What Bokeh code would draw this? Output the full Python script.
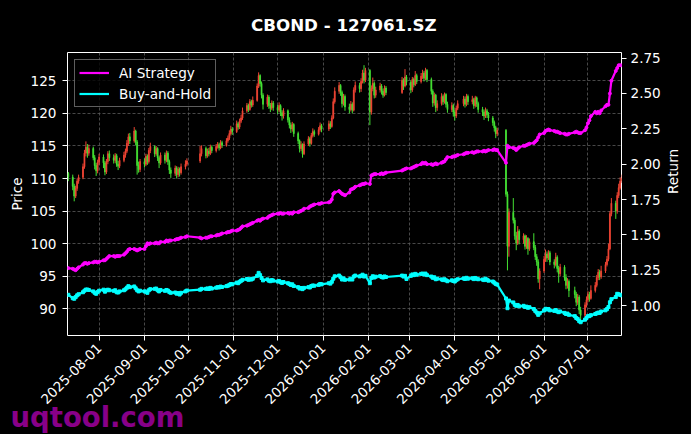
import math
import pandas as pd
from bokeh.plotting import figure
from bokeh.models import (ColumnDataSource, Range1d, LinearAxis, FixedTicker,
                          DatetimeTickFormatter, NumeralTickFormatter, Label,
                          Legend, LegendItem)
from bokeh.embed import file_html
from bokeh.resources import INLINE

TITLE = "CBOND - 127061.SZ"
WATERMARK = "uqtool.com"
first_day = "2025-07-11"
last_day = "2026-07-24"
market_holidays = ["2025-10-01", "2025-10-02", "2025-10-03", "2025-10-06", "2025-10-07",
                   "2025-10-08", "2026-01-01", "2026-01-02", "2026-02-16", "2026-02-17",
                   "2026-02-18", "2026-02-19", "2026-02-20", "2026-02-23", "2026-04-06",
                   "2026-05-01", "2026-05-04", "2026-05-05", "2026-06-19"]
month_ticks = ["2025-08-01", "2025-09-01", "2025-10-01", "2025-11-01", "2025-12-01",
               "2026-01-01", "2026-02-01", "2026-03-01", "2026-04-01", "2026-05-01",
               "2026-06-01", "2026-07-01"]
price_ticks = [90, 95, 100, 105, 110, 115, 120, 125]
return_ticks = [1.00, 1.25, 1.50, 1.75, 2.00, 2.25, 2.50, 2.75]

first_open = 110.8
close = [110.2,
    108.8, 107.3, 108.5, 109.6, 110.2, 111.8, 113.9, 114.8, 113.9, 114.6, 113.2, 112.0, 111.2, 112.5, 113.3,
    112.4, 111.0, 112.6, 113.8, 113.2, 112.8, 113.5, 112.2, 111.9, 112.8, 113.6, 114.2, 115.4, 116.4, 115.8, 117.3, 115.6, 112.0, 111.4, 112.6,
    112.2, 113.4, 112.6, 114.3, 114.9, 113.8, 114.6, 113.2, 112.4, 113.6, 112.8, 113.9, 112.6, 111.3, 110.8, 111.6, 110.6, 111.4, 110.9, 111.8, 112.2, 112.7,
    113.8, 114.6, 113.5, 114.2, 113.8, 114.8, 114.3, 114.9, 115.2, 114.7, 115.5, 115.1, 115.8, 116.2, 116.9, 117.6, 117.2,
    118.4, 117.9, 118.8, 119.3, 120.4, 121.2, 120.6, 121.8, 121.3, 122.0, 124.2, 125.8, 124.6, 122.8, 121.4, 122.5, 121.2, 120.8, 121.6, 120.9,
    120.5, 121.2, 120.1, 119.6, 120.4, 119.0, 118.2, 117.6, 118.3, 116.9, 115.8, 114.6, 115.2, 113.8, 115.3, 116.1, 115.4, 116.6, 117.2, 116.8, 117.5, 118.1, 117.6,
    118.4, 118.0, 119.3, 121.8, 123.4, 124.3, 123.2, 121.5, 122.6, 121.0, 120.6, 121.4, 120.5, 123.6, 124.3, 123.8, 124.9, 126.2, 125.1, 126.6,
    120.2, 123.8, 124.6, 122.8, 123.6, 124.2, 123.4, 122.8, 123.9, 123.2, 125.1, 124.2, 125.6, 124.8,
    123.6, 125.2, 124.4, 125.8, 124.9, 125.7, 126.2, 125.4, 126.6, 125.2, 123.4, 121.6, 122.8, 120.9, 121.5, 122.6, 121.8, 122.9, 121.4, 120.6, 121.2, 120.2,
    119.6, 120.8, 121.5, 122.2, 121.4, 122.6, 121.8, 122.1, 121.2, 122.4, 121.5, 120.6, 120.2, 119.6, 120.4, 119.8, 119.3, 118.6, 117.8, 116.9, 117.4,
    107.6, 99.6, 104.8, 103.6, 101.2, 100.1, 101.9, 100.6, 101.2, 99.6, 100.8, 99.2, 100.3, 99.4, 98.0, 97.2, 94.6, 95.8,
    97.6, 98.4, 97.8, 98.6, 97.2, 96.8, 97.9, 96.2, 95.4, 96.4, 94.8, 93.6, 94.2, 92.8, 92.2, 91.0, 91.8, 89.8, 89.0, 90.6, 91.4,
    92.2, 91.6, 92.8, 93.6, 94.8, 95.6, 94.9, 95.8, 96.8, 97.6, 99.2, 104.6, 106.2, 105.0, 107.4, 108.6, 109.6,
    110.0]
high = [111.0,
    110.6, 109.2, 108.9, 110.0, 110.6, 112.3, 114.4, 115.7, 115.3, 115.2, 114.9, 113.6, 112.4, 112.9, 113.8,
    113.7, 112.7, 113.0, 114.2, 114.3, 113.7, 113.9, 113.8, 112.7, 113.2, 114.1, 114.6, 115.9, 116.9, 117.0, 117.9, 117.5, 115.9, 112.6, 113.0,
    113.1, 113.8, 113.7, 114.7, 115.5, 115.1, 115.0, 114.8, 113.5, 114.0, 114.0, 114.3, 114.2, 112.9, 111.7, 112.0, 111.9, 111.8, 111.7, 112.3, 112.8, 113.1,
    115.0, 115.1, 114.9, 114.6, 114.7, 115.2, 115.1, 115.3, 115.6, 115.5, 115.9, 115.8, 116.2, 116.6, 117.4, 118.1, 117.9,
    118.9, 118.7, 119.2, 119.8, 120.9, 121.6, 121.5, 122.2, 122.1, 122.6, 124.6, 126.3, 126.0, 124.9, 123.1, 122.9, 122.8, 121.6, 122.0, 121.9,
    121.3, 121.7, 121.4, 120.5, 120.8, 120.6, 119.4, 118.6, 118.7, 118.5, 117.2, 116.0, 115.7, 115.4, 115.7, 116.5, 116.4, 117.0, 117.7, 117.5, 117.9, 118.6, 118.4,
    118.9, 118.8, 119.7, 122.3, 124.0, 124.8, 124.5, 123.5, 123.0, 122.9, 121.5, 121.9, 121.7, 124.0, 124.9, 124.7, 125.4, 126.7, 127.4, 127.0,
    126.8, 124.3, 125.5, 124.9, 124.1, 124.7, 124.5, 123.8, 124.3, 124.2, 125.6, 125.4, 126.8, 125.9,
    125.1, 125.6, 125.5, 126.5, 126.1, 126.2, 126.7, 126.5, 127.0, 126.8, 125.5, 123.7, 123.2, 123.0, 122.0, 123.1, 122.9, 123.2, 123.1, 121.8, 121.7, 121.5,
    120.5, 121.2, 122.0, 122.7, 122.6, 123.0, 122.9, 122.7, 122.4, 122.7, 122.6, 121.8, 121.0, 120.6, 120.9, 120.7, 120.2, 119.6, 118.9, 118.1, 117.8,
    117.6, 108.0, 105.4, 107.0, 104.0, 101.8, 102.7, 102.2, 101.6, 101.4, 101.3, 101.0, 100.8, 101.6, 99.8, 98.4, 97.6, 96.2,
    98.1, 99.1, 98.8, 99.0, 98.9, 97.6, 98.6, 98.2, 96.6, 96.9, 96.7, 95.3, 94.7, 94.5, 93.4, 92.6, 92.3, 92.1, 90.3, 91.0, 91.9,
    92.7, 92.6, 93.6, 94.1, 95.2, 96.1, 96.0, 96.6, 97.2, 98.1, 100.0, 105.0, 107.0, 106.6, 107.9, 109.2, 110.2,
    110.6]
low = [109.6,
    108.2, 106.5, 107.0, 108.1, 109.2, 109.9, 111.5, 113.4, 113.2, 113.5, 112.8, 111.4, 110.4, 110.8, 112.1,
    111.6, 110.5, 110.7, 112.2, 112.7, 112.3, 112.4, 111.8, 111.3, 111.6, 112.5, 113.2, 113.9, 115.0, 115.3, 115.5, 115.1, 110.6, 110.9, 111.0,
    111.7, 111.9, 112.1, 112.3, 113.9, 113.3, 113.5, 112.7, 111.6, 112.1, 112.3, 112.5, 112.1, 110.7, 110.1, 110.4, 110.0, 110.2, 110.3, 110.6, 111.4, 111.9,
    112.4, 113.4, 113.1, 113.2, 113.4, 113.6, 113.9, 114.0, 114.6, 114.3, 114.5, 114.7, 114.9, 115.5, 115.9, 116.6, 116.7,
    117.0, 117.5, 117.6, 118.5, 119.0, 120.1, 120.2, 120.4, 120.9, 121.0, 121.8, 123.9, 124.1, 122.3, 120.6, 121.0, 120.7, 120.2, 120.5, 120.4,
    119.9, 120.2, 119.6, 118.9, 119.2, 118.6, 117.7, 117.0, 117.2, 116.4, 115.3, 114.0, 114.2, 113.2, 113.6, 115.0, 114.9, 115.2, 116.3, 116.4, 116.6, 117.2, 117.1,
    117.3, 117.6, 117.8, 119.1, 121.5, 123.0, 122.7, 120.9, 121.2, 120.4, 120.0, 120.3, 120.0, 120.3, 123.2, 123.2, 123.3, 124.6, 124.6, 124.8,
    118.2, 119.8, 123.4, 122.3, 122.4, 123.2, 122.9, 122.4, 122.6, 122.8, 123.0, 123.6, 124.0, 124.3,
    123.1, 123.3, 124.0, 124.2, 124.5, 124.6, 125.3, 124.9, 125.1, 124.8, 122.9, 121.0, 121.2, 120.2, 120.4, 121.2, 121.3, 121.5, 120.9, 120.1, 120.2, 119.5,
    118.9, 119.3, 120.5, 121.1, 120.9, 121.1, 121.3, 121.4, 120.7, 120.9, 121.0, 120.1, 119.6, 119.0, 119.3, 119.3, 118.8, 118.1, 117.2, 116.2, 116.5,
    107.2, 95.9, 98.0, 103.1, 100.6, 99.0, 99.8, 99.9, 100.0, 99.1, 99.2, 98.3, 98.9, 99.0, 97.5, 96.6, 94.0, 93.0,
    95.5, 97.2, 97.2, 97.5, 96.7, 96.2, 96.5, 95.6, 94.0, 95.0, 94.3, 93.0, 93.1, 91.8, 91.6, 90.4, 90.6, 89.2, 88.1, 88.6, 90.2,
    91.0, 91.1, 91.4, 92.5, 93.3, 94.4, 94.4, 94.6, 95.5, 96.5, 97.3, 99.0, 104.2, 103.8, 104.6, 107.0, 108.3,
    109.3]
ai_strategy = [1.265,
    1.26, 1.255, 1.25, 1.26, 1.27, 1.29, 1.30, 1.30, 1.295, 1.30, 1.305, 1.31, 1.31, 1.305, 1.31,
    1.32, 1.32, 1.33, 1.34, 1.35, 1.35, 1.345, 1.35, 1.35, 1.35, 1.36, 1.37, 1.38, 1.395, 1.40, 1.40, 1.395, 1.39, 1.395, 1.40,
    1.40, 1.42, 1.44, 1.435, 1.44, 1.44, 1.445, 1.44, 1.44, 1.45, 1.45, 1.46, 1.455, 1.46, 1.46, 1.465, 1.47, 1.47, 1.475, 1.48, 1.485, 1.49,
    1.48, 1.475, 1.48, 1.48, 1.485, 1.49, 1.49, 1.495, 1.50, 1.50, 1.505, 1.51, 1.515, 1.52, 1.52, 1.525, 1.53,
    1.53, 1.535, 1.54, 1.55, 1.56, 1.565, 1.57, 1.575, 1.58, 1.585, 1.60, 1.605, 1.60, 1.61, 1.615, 1.62, 1.63, 1.635, 1.64, 1.645,
    1.65, 1.65, 1.655, 1.65, 1.65, 1.655, 1.65, 1.655, 1.65, 1.66, 1.66, 1.665, 1.67, 1.675, 1.685, 1.69, 1.70, 1.705, 1.71, 1.715, 1.72, 1.72, 1.725,
    1.73, 1.735, 1.75, 1.79, 1.80, 1.81, 1.80, 1.79, 1.785, 1.78, 1.80, 1.82, 1.825, 1.83, 1.84, 1.85, 1.855, 1.86, 1.86, 1.865,
    1.86, 1.92, 1.925, 1.93, 1.93, 1.93, 1.935, 1.93, 1.935, 1.94, 1.955, 1.96, 1.965, 1.97,
    1.97, 1.975, 1.98, 1.985, 1.99, 2.00, 2.01, 2.005, 2.01, 2.00, 2.00, 1.995, 2.00, 2.005, 2.00, 2.01, 2.015, 2.02, 2.035, 2.05, 2.05, 2.055,
    2.055, 2.06, 2.065, 2.07, 2.075, 2.08, 2.08, 2.085, 2.08, 2.085, 2.09, 2.09, 2.09, 2.095, 2.09, 2.095, 2.10, 2.10, 2.105, 2.10, 2.10,
    2.01, 2.13, 2.12, 2.115, 2.11, 2.10, 2.11, 2.12, 2.13, 2.13, 2.135, 2.14, 2.145, 2.15, 2.16, 2.17, 2.19, 2.21,
    2.22, 2.235, 2.24, 2.245, 2.24, 2.235, 2.23, 2.23, 2.225, 2.22, 2.215, 2.21, 2.21, 2.215, 2.225, 2.23, 2.225, 2.22, 2.22, 2.24, 2.26,
    2.29, 2.31, 2.34, 2.37, 2.36, 2.37, 2.36, 2.38, 2.41, 2.42, 2.42, 2.50, 2.59, 2.66, 2.68, 2.70, 2.70,
    2.70]
buy_and_hold = [1.076,
    1.052, 1.048, 1.060, 1.072, 1.080, 1.094, 1.105, 1.113, 1.113, 1.110, 1.100, 1.090, 1.083, 1.095, 1.105,
    1.112, 1.098, 1.108, 1.112, 1.108, 1.104, 1.108, 1.094, 1.092, 1.100, 1.108, 1.115, 1.126, 1.137, 1.130, 1.135, 1.122, 1.108, 1.100, 1.105,
    1.100, 1.098, 1.090, 1.108, 1.116, 1.118, 1.120, 1.108, 1.100, 1.110, 1.104, 1.110, 1.106, 1.095, 1.090, 1.092, 1.084, 1.088, 1.078, 1.090, 1.100, 1.106,
    1.112, 1.118, 1.118, 1.121, 1.117, 1.125, 1.120, 1.126, 1.130, 1.128, 1.134, 1.131, 1.137, 1.140, 1.146, 1.152, 1.150,
    1.162, 1.158, 1.168, 1.175, 1.182, 1.188, 1.182, 1.186, 1.184, 1.190, 1.210, 1.231, 1.215, 1.195, 1.178, 1.185, 1.176, 1.172, 1.180, 1.176,
    1.170, 1.174, 1.165, 1.160, 1.166, 1.158, 1.153, 1.146, 1.150, 1.138, 1.130, 1.120, 1.124, 1.116, 1.125, 1.130, 1.128, 1.138, 1.142, 1.140, 1.146, 1.152, 1.150,
    1.158, 1.155, 1.168, 1.190, 1.207, 1.212, 1.200, 1.184, 1.192, 1.182, 1.184, 1.190, 1.184, 1.205, 1.212, 1.206, 1.210, 1.218, 1.205, 1.210,
    1.158, 1.195, 1.207, 1.198, 1.204, 1.208, 1.202, 1.198, 1.206, 1.202, 1.212, 1.205, 1.210, 1.188,
    1.210, 1.220, 1.215, 1.224, 1.218, 1.224, 1.226, 1.220, 1.226, 1.215, 1.205, 1.196, 1.200, 1.186, 1.190, 1.185, 1.180, 1.186, 1.178, 1.172, 1.178, 1.174,
    1.170, 1.180, 1.186, 1.192, 1.188, 1.196, 1.190, 1.193, 1.187, 1.195, 1.190, 1.186, 1.184, 1.180, 1.190, 1.182, 1.176, 1.170, 1.162, 1.153, 1.148,
    1.050, 0.981, 1.035, 1.022, 1.005, 0.998, 1.004, 0.995, 0.998, 0.990, 0.992, 0.984, 0.988, 0.975, 0.962, 0.950, 0.934, 0.945,
    0.965, 0.977, 0.972, 0.975, 0.966, 0.962, 0.968, 0.958, 0.953, 0.958, 0.948, 0.940, 0.943, 0.934, 0.925, 0.912, 0.905, 0.890, 0.882, 0.900, 0.912,
    0.925, 0.925, 0.932, 0.940, 0.945, 0.950, 0.948, 0.958, 0.966, 0.975, 0.990, 1.023, 1.045, 1.060, 1.083, 1.080, 1.075,
    1.072]

UP_COLOR = "#ee4433"
DOWN_COLOR = "#44e033"
FONT = "DejaVu Sans"

dates = pd.bdate_range(first_day, last_day)
dates = dates[~dates.isin(pd.to_datetime(market_holidays))]
n = min(len(dates), len(close), len(high), len(low), len(ai_strategy), len(buy_and_hold))
dates = dates[:n]
c = close[:n]
o = [first_open] + c[:-1]
colors = [UP_COLOR if cc >= oo else DOWN_COLOR for oo, cc in zip(o, c)]

candles = ColumnDataSource(dict(
    date=dates, top=[max(a, b) for a, b in zip(o, c)], bottom=[min(a, b) for a, b in zip(o, c)],
    high=high[:n], low=low[:n], color=colors))
lines = ColumnDataSource(dict(date=dates, ai=ai_strategy[:n], bh=buy_and_hold[:n]))

p = figure(width=691, height=434, x_axis_type="datetime",
           x_range=Range1d(pd.Timestamp("2025-07-10 10:00"), pd.Timestamp("2026-07-23 22:00")),
           y_range=Range1d(85.9, 129.35),
           output_backend="svg", toolbar_location=None,
           min_border_left=67, min_border_right=69, min_border_top=52, min_border_bottom=99,
           background_fill_color="#000000", border_fill_color="#000000",
           outline_line_color="#ffffff", outline_line_width=1)
p.extra_y_ranges = {"ret": Range1d(0.788, 2.79)}

p.segment(x0="date", y0="low", x1="date", y1="high", source=candles, line_color="color", line_width=1)
p.vbar(x="date", width=0.6 * 86400000, top="top", bottom="bottom", source=candles,
       fill_color="color", line_color="color", line_width=0.8)

ai_line = p.line("date", "ai", source=lines, y_range_name="ret", line_color="#ff00ff", line_width=2.2)
p.scatter("date", "ai", source=lines, y_range_name="ret", marker="circle", size=3,
          fill_color="#ff00ff", line_color="#ff00ff")
bh_line = p.line("date", "bh", source=lines, y_range_name="ret", line_color="#00ffff", line_width=2.2)
p.scatter("date", "bh", source=lines, y_range_name="ret", marker="square", size=3,
          fill_color="#00ffff", line_color="#00ffff")

right = LinearAxis(y_range_name="ret", axis_label="Return")
p.add_layout(right, "right")

xa = p.xaxis[0]
ya = p.yaxis[0]
tick_ms = [pd.Timestamp(t).value / 1e6 for t in month_ticks]
xa.ticker = FixedTicker(ticks=tick_ms)
fmt = "%Y-%m-%d"
xa.formatter = DatetimeTickFormatter(microseconds=fmt, milliseconds=fmt, seconds=fmt, minsec=fmt,
                                     minutes=fmt, hourmin=fmt, hours=fmt, days=fmt, months=fmt, years=fmt)
xa.major_label_orientation = math.pi / 4
ya.ticker = FixedTicker(ticks=price_ticks)
ya.axis_label = "Price"
right.ticker = FixedTicker(ticks=return_ticks)
right.formatter = NumeralTickFormatter(format="0.00")

for ax in (xa, ya, right):
    ax.axis_line_color = None
    ax.major_tick_line_color = "#ffffff"
    ax.major_tick_line_width = 1
    ax.major_tick_out = 5
    ax.major_tick_in = 0
    ax.minor_tick_line_color = None
    ax.major_label_text_color = "#ffffff"
    ax.major_label_text_font = FONT
    ax.major_label_text_font_size = "13.6px"
    ax.major_label_standoff = 5
    ax.axis_label_text_color = "#ffffff"
    ax.axis_label_text_font = FONT
    ax.axis_label_text_font_size = "13.6px"
    ax.axis_label_text_font_style = "normal"
ya.major_label_standoff = 6
ya.axis_label_standoff = 3
right.major_label_standoff = 4
right.axis_label_standoff = 9
try:
    right.axis_label_orientation = math.pi / 2
except AttributeError:
    pass

p.grid.grid_line_color = "#5a5a5a"
p.grid.grid_line_dash = "3 2"
p.grid.grid_line_width = 0.8

legend = Legend(items=[LegendItem(label="AI Strategy", renderers=[ai_line]),
                       LegendItem(label="Buy-and-Hold", renderers=[bh_line])],
                location="top_left", margin=7, padding=4, spacing=4,
                glyph_width=30, glyph_height=17, label_height=17, label_standoff=10,
                label_text_font=FONT, label_text_font_size="13.6px", label_text_color="#ffffff",
                border_line_color="#bbbbbb", border_line_width=1,
                background_fill_color="#000000", background_fill_alpha=0.8)
p.add_layout(legend)

# texts outside the frame live in the top side panel (not clipped); canvas coordinates
p.add_layout(Label(x=343.3, y=24, x_units="canvas", y_units="canvas", text=TITLE,
                   text_align="center", text_baseline="alphabetic", text_font=FONT,
                   text_font_style="bold", text_font_size="16.7px", text_color="#ffffff"), "above")
p.add_layout(Label(x=10, y=416, x_units="canvas", y_units="canvas", text=WATERMARK,
                   text_align="left", text_baseline="alphabetic", text_font=FONT,
                   text_font_style="bold", text_font_size="27.5px", text_color="#880088"), "above")

html = file_html(p, INLINE, title=TITLE)
html = html.replace("</head>", "<style>html,body{background:#000000;}</style></head>", 1)
open("out.html", "w").write(html)
